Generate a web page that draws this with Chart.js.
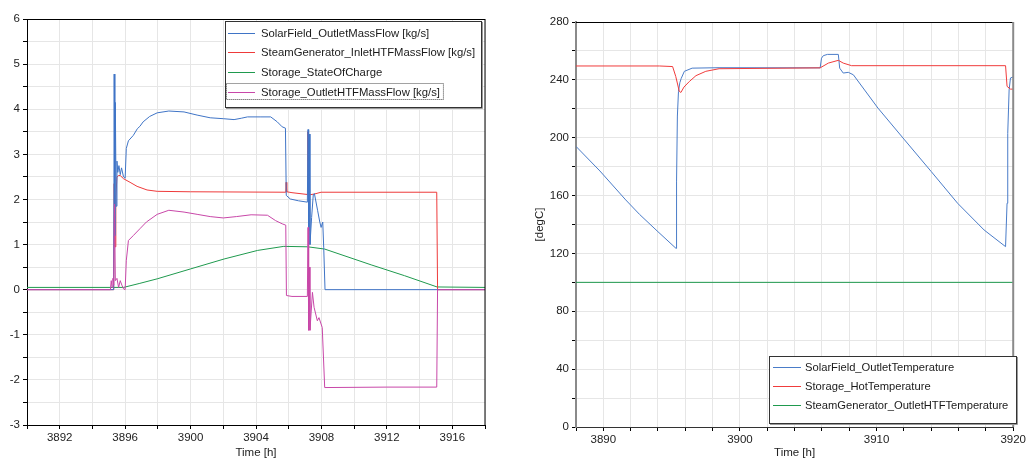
<!DOCTYPE html>
<html><head><meta charset="utf-8">
<script src="https://cdn.jsdelivr.net/npm/chart.js@4.4.1/dist/chart.umd.min.js"></script>
<style>
html,body{margin:0;padding:0;background:#fff;}
#wrap{position:relative;width:1028px;height:462px;overflow:hidden;background:#fff;}
canvas{position:absolute;top:0;}
#c1{left:0;}
#c2{left:520px;}
</style></head><body>
<div id="wrap">
<canvas id="c1" width="510" height="462"></canvas>
<canvas id="c2" width="508" height="462"></canvas>
</div>
<script>
// ---------------- LEFT PANEL DATA ----------------
const leftLabels = ["SolarField_OutletMassFlow [kg/s]", "SteamGenerator_InletHTFMassFlow [kg/s]", "Storage_StateOfCharge", "Storage_OutletHTFMassFlow [kg/s]"];
const leftXTickLabels = [3892, 3896, 3900, 3904, 3908, 3912, 3916];
const leftYTickLabels = [-3, -2, -1, 0, 1, 2, 3, 4, 5, 6];

const sfFlowT = [3890, 3895.30, 3895.33, 3895.37, 3895.40, 3895.45, 3895.50, 3895.55, 3895.62, 3895.70, 3895.78, 3895.90, 3896.00, 3896.07, 3896.20, 3896.50, 3896.75, 3896.90, 3897.10, 3897.50, 3897.96, 3898.67, 3899.60, 3900.40, 3901.20, 3902.00, 3902.66, 3903.10, 3903.48, 3904.30, 3904.90, 3905.30, 3905.60, 3905.80, 3905.85, 3906.10, 3906.60, 3907.14, 3907.18, 3907.22, 3907.26, 3907.30, 3907.40, 3907.50, 3907.57, 3907.77, 3907.90, 3907.98, 3908.08, 3908.14, 3908.22, 3918];
const sfFlowV = [0, 0, 4.78, 1.20, 4.15, 1.85, 2.85, 2.60, 2.75, 2.55, 2.70, 2.50, 2.47, 3.13, 3.30, 3.42, 3.57, 3.62, 3.72, 3.84, 3.92, 3.96, 3.94, 3.87, 3.81, 3.79, 3.77, 3.80, 3.83, 3.83, 3.83, 3.72, 3.61, 3.58, 2.09, 2.01, 1.97, 1.94, 3.55, 1.30, 3.45, 1.00, 1.60, 2.10, 2.13, 1.75, 1.50, 1.38, 1.50, 0.94, 0, 0];

const sgFlowT = [3890, 3895.30, 3895.33, 3895.38, 3895.43, 3895.50, 3895.60, 3895.70, 3895.90, 3896.30, 3896.73, 3897.34, 3897.96, 3900.00, 3905.82, 3905.84, 3905.88, 3906.20, 3907.14, 3907.17, 3907.21, 3907.57, 3907.98, 3915.05, 3915.10, 3918];
const sgFlowV = [0, 0, 2.35, 0.95, 2.05, 2.50, 2.53, 2.53, 2.46, 2.38, 2.29, 2.21, 2.18, 2.17, 2.16, 2.38, 2.17, 2.15, 2.11, 3.50, 2.10, 2.12, 2.16, 2.16, 0, 0];

const socT = [3890, 3895.90, 3896.90, 3897.96, 3900.00, 3902.05, 3904.10, 3905.70, 3907.16, 3908.20, 3911.04, 3913.08, 3915.07, 3918];
const socV = [0.05, 0.05, 0.14, 0.24, 0.46, 0.68, 0.87, 0.96, 0.95, 0.90, 0.55, 0.31, 0.06, 0.05];

const stFlowT = [3890, 3895.10, 3895.15, 3895.20, 3895.25, 3895.30, 3895.35, 3895.40, 3895.50, 3895.60, 3895.70, 3895.80, 3895.90, 3896.00, 3896.07, 3896.20, 3896.50, 3896.90, 3897.30, 3897.96, 3898.67, 3899.60, 3900.40, 3901.20, 3902.00, 3902.80, 3903.70, 3904.70, 3905.20, 3905.60, 3905.82, 3905.86, 3906.20, 3907.14, 3907.18, 3907.22, 3907.26, 3907.30, 3907.45, 3907.55, 3907.75, 3907.85, 3908.05, 3908.20, 3912.00, 3915.05, 3915.10, 3918];
const stFlowV = [0, 0, 0.20, 0.05, 0.25, 0.10, 1.90, 0.20, 0.25, 0.05, 0.20, 0.10, 0.02, 0, 0.64, 1.09, 1.20, 1.35, 1.50, 1.67, 1.76, 1.72, 1.67, 1.62, 1.59, 1.62, 1.66, 1.65, 1.53, 1.46, 1.43, -0.13, -0.15, -0.15, 1.38, -0.90, 0.50, -0.90, -0.06, -0.39, -0.69, -0.62, -0.84, -2.17, -2.16, -2.16, 0, 0];

// ---------------- RIGHT PANEL DATA ----------------
const rightLabels = ["SolarField_OutletTemperature", "Storage_HotTemperature", "SteamGenerator_OutletHTFTemperature"];
const rightXTickLabels = [3890, 3900, 3910, 3920];
const rightYTickLabels = [0, 40, 80, 120, 160, 200, 240, 280];

const sfTempT = [3888, 3889.75, 3891.64, 3892.65, 3894.00, 3895.32, 3895.36, 3895.42, 3895.50, 3895.60, 3895.70, 3895.93, 3896.50, 3898.47, 3905.87, 3905.97, 3906.10, 3906.40, 3907.20, 3907.30, 3907.56, 3907.93, 3908.30, 3910.10, 3912.05, 3914.00, 3915.93, 3917.87, 3919.44, 3919.55, 3919.60, 3919.70, 3919.80, 3920];
const sfTempV = [194, 177, 157, 147, 135, 123.5, 170, 215, 232, 238, 241, 245.9, 248.1, 248.4, 248.3, 255, 256.7, 257.6, 257.6, 248.1, 244.7, 245.2, 243.5, 220.5, 198.5, 176.6, 154.7, 136.2, 124.7, 154.7, 203, 233, 241.3, 242];

const hotTempT = [3888, 3894.10, 3895.07, 3895.30, 3895.56, 3895.68, 3895.90, 3896.30, 3896.78, 3897.50, 3898.47, 3905.87, 3906.47, 3907.20, 3907.56, 3908.17, 3919.44, 3919.55, 3919.80, 3920];
const hotTempV = [249.6, 249.6, 249.2, 242.4, 232, 231.3, 235, 238.9, 242.9, 245.9, 247.7, 248.3, 251.6, 253.5, 251.6, 249.8, 249.8, 235.5, 233.6, 233.6];

const sgTempT = [3888, 3920];
const sgTempV = [100, 100];

// ---------------- helpers ----------------
const FONT = '"Liberation Sans", Arial, sans-serif';
function pts(t, v) { return t.map((x, i) => ({ x: x, y: v[i] })); }
function ds(label, t, v, color, order) {
  return { label, data: pts(t, v), borderColor: color, backgroundColor: color, borderWidth: 1,
           pointRadius: 0, tension: 0, fill: false, order: order };
}

const framePlugin = {
  id: 'frame',
  afterDraw(chart, args, o) {
    const { ctx, chartArea: a } = chart;
    ctx.save();
    ctx.strokeStyle = o.topColor; ctx.lineWidth = 1;
    ctx.beginPath(); ctx.moveTo(a.left, a.top + 0.5); ctx.lineTo(a.right, a.top + 0.5); ctx.stroke();
    ctx.strokeStyle = o.rightColor; ctx.lineWidth = o.rightWidth;
    ctx.beginPath(); ctx.moveTo(a.right, a.top); ctx.lineTo(a.right, a.bottom); ctx.stroke();
    ctx.restore();
  }
};

const boxLegend = {
  id: 'boxLegend',
  afterDraw(chart, args, o) {
    const ctx = chart.ctx;
    ctx.save();
    ctx.fillStyle = '#fff';
    ctx.fillRect(o.x, o.y, o.w, o.h);
    ctx.strokeStyle = '#9a9a9a'; ctx.lineWidth = 1;
    ctx.beginPath();
    ctx.moveTo(o.x + o.w + 1.5, o.y + 1); ctx.lineTo(o.x + o.w + 1.5, o.y + o.h + 1.5); ctx.lineTo(o.x + 1, o.y + o.h + 1.5);
    ctx.stroke();
    ctx.strokeStyle = '#333';
    ctx.strokeRect(o.x + 0.5, o.y + 0.5, o.w, o.h);
    ctx.font = o.fontSize + 'px ' + FONT;
    ctx.textBaseline = 'middle';
    const dsets = chart.data.datasets;
    o.rows.forEach((ry, i) => {
      const d = dsets[o.map[i]];
      ctx.strokeStyle = d.borderColor; ctx.lineWidth = 1;
      ctx.beginPath(); ctx.moveTo(o.x + o.lineX0, ry + 0.5); ctx.lineTo(o.x + o.lineX1, ry + 0.5); ctx.stroke();
      ctx.fillStyle = '#1a1a1a';
      ctx.fillText(d.label, o.x + o.textX, ry + 1);
      if (o.focus === i) {
        const w = ctx.measureText(d.label).width;
        ctx.setLineDash([1, 1]);
        ctx.strokeStyle = '#444';
        ctx.strokeRect(o.x + 1.5, ry - 8.5, o.textX + w + 2, 16);
        ctx.setLineDash([]);
      }
    });
    ctx.restore();
  }
};

function axisCommon() {
  return {
    font: { size: 11.5, family: FONT },
    color: '#222'
  };
}

// ---------------- LEFT CHART ----------------
new Chart(document.getElementById('c1'), {
  type: 'line',
  data: {
    datasets: [
      ds(leftLabels[0], sfFlowT, sfFlowV, '#3f74c6', 1),
      ds(leftLabels[1], sgFlowT, sgFlowV, '#ee3a3a', 2),
      ds(leftLabels[2], socT, socV, '#1f9a4e', 3),
      ds(leftLabels[3], stFlowT, stFlowV, '#c847a8', 0)
    ]
  },
  options: {
    responsive: false, animation: false, devicePixelRatio: 1,
    layout: { padding: { left: 0, top: 19, right: 25, bottom: 0 } },
    plugins: {
      legend: { display: false }, tooltip: { enabled: false },
      frame: { topColor: '#000', rightColor: '#000', rightWidth: 1 },
      boxLegend: { x: 225, y: 21, w: 256, h: 86, rows: [33, 52, 72, 92], map: [0, 1, 2, 3],
                   lineX0: 3, lineX1: 30, textX: 36, focus: 3, fontSize: 11.3 }
    },
    scales: {
      x: {
        type: 'linear', min: 3890, max: 3918,
        afterFit: s => { s.height = 37; },
        ticks: Object.assign({ stepSize: 2, autoSkip: false, maxRotation: 0, padding: 2,
          callback: v => leftXTickLabels.includes(v) ? String(v) : '' }, axisCommon()),
        grid: { color: '#e6e6e6', tickColor: '#000', tickLength: 4, drawTicks: true },
        border: { color: '#000', width: 1 },
        title: { display: true, text: 'Time [h]', color: '#222', font: { size: 11.5, family: FONT }, padding: { top: 0, bottom: 2 } }
      },
      y: {
        type: 'linear', min: -3, max: 6,
        afterFit: s => { s.width = 27; },
        ticks: Object.assign({ stepSize: 0.5, autoSkip: false, padding: 3,
          callback: v => leftYTickLabels.includes(v) ? String(v) : '' }, axisCommon()),
        grid: { color: '#e6e6e6', tickColor: '#000', tickLength: 4, drawTicks: true },
        border: { color: '#000', width: 1 }
      }
    }
  },
  plugins: [framePlugin, boxLegend]
});

// ---------------- RIGHT CHART ----------------
new Chart(document.getElementById('c2'), {
  type: 'line',
  data: {
    datasets: [
      ds(rightLabels[0], sfTempT, sfTempV, '#4a7cc8', 1),
      ds(rightLabels[1], hotTempT, hotTempV, '#f03c3c', 0),
      ds(rightLabels[2], sgTempT, sgTempV, '#1f9a4e', 2)
    ]
  },
  options: {
    responsive: false, animation: false, devicePixelRatio: 1,
    layout: { padding: { left: 0, top: 22, right: 11, bottom: 0 } },
    plugins: {
      legend: { display: false }, tooltip: { enabled: false },
      frame: { topColor: '#000', rightColor: '#8a8a8a', rightWidth: 2 },
      boxLegend: { x: 249, y: 356, w: 247, h: 67, rows: [367, 386, 405], map: [0, 1, 2],
                   lineX0: 4, lineX1: 32, textX: 36, focus: -1, fontSize: 11.2 }
    },
    scales: {
      x: {
        type: 'linear', min: 3888, max: 3920,
        afterFit: s => { s.height = 35; },
        ticks: Object.assign({ stepSize: 2, autoSkip: false, maxRotation: 0, padding: 2,
          callback: v => rightXTickLabels.includes(v) ? String(v) : '' }, axisCommon()),
        grid: { color: '#e6e6e6', tickColor: '#000', tickLength: 4, drawTicks: true },
        border: { color: '#333', width: 1 },
        title: { display: true, text: 'Time [h]', color: '#222', font: { size: 11.5, family: FONT }, padding: { top: 0, bottom: 2 } }
      },
      y: {
        type: 'linear', min: 0, max: 280,
        afterFit: s => { s.width = 56; },
        ticks: Object.assign({ stepSize: 20, autoSkip: false, padding: 3,
          callback: v => rightYTickLabels.includes(v) ? String(v) : '' }, axisCommon()),
        grid: { color: '#e6e6e6', tickColor: '#000', tickLength: 4, drawTicks: true },
        border: { color: '#8a8a8a', width: 2 },
        title: { display: true, text: '[degC]', color: '#222', font: { size: 11.5, family: FONT }, padding: { top: 13, bottom: 0 } }
      }
    }
  },
  plugins: [framePlugin, boxLegend]
});
</script>
</body></html>
